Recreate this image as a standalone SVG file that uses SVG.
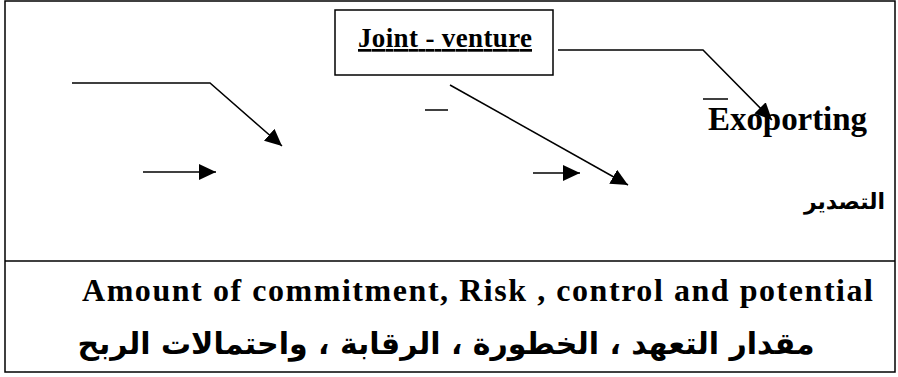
<svg xmlns="http://www.w3.org/2000/svg" width="898" height="377" viewBox="0 0 898 377">
<style>
.ln{stroke:#000;stroke-width:1.5;fill:none}
.en{font-family:"Liberation Serif","Times New Roman",serif;font-weight:bold;fill:#000}
.ar{font-family:"DejaVu Sans","Noto Sans",sans-serif;font-weight:bold;fill:#000}
</style>
<defs>
<marker id="ah" markerUnits="userSpaceOnUse" markerWidth="18" markerHeight="16" refX="17" refY="8" orient="auto">
<path d="M0,0 L17,8 L0,16 Z" fill="#000"/>
</marker>
</defs>
<rect x="5" y="1" width="890" height="371" fill="#fff" stroke="#000" stroke-width="1.5"/>
<line x1="5" y1="261" x2="895" y2="261" class="ln"/>
<g id="joint-venture">
<rect x="335" y="10" width="218" height="65" fill="#fff" stroke="#000" stroke-width="1.5"/>
<text x="358" y="47" class="en" font-size="27" text-decoration="underline" textLength="174" lengthAdjust="spacing">Joint  - venture</text>
</g>
<g id="exporting">
<line x1="703" y1="99" x2="728" y2="99" class="ln"/>
<text x="708" y="130" class="en" font-size="33" textLength="159" lengthAdjust="spacing">Exoporting</text>
<text x="885" y="209" class="ar" font-size="22" text-anchor="end">التصدير</text>
</g>
<g id="connectors">
<polyline points="72,83 210,83 282,146" class="ln" marker-end="url(#ah)"/>
<line x1="143" y1="172" x2="216" y2="172" class="ln" marker-end="url(#ah)"/>
<line x1="425" y1="110" x2="448" y2="110" class="ln"/>
<line x1="450" y1="85" x2="628" y2="185" class="ln" marker-end="url(#ah)"/>
<line x1="533" y1="173" x2="580" y2="173" class="ln" marker-end="url(#ah)"/>
<polyline points="558,50 703,50 772,120" class="ln" marker-end="url(#ah)"/>
</g>
<g id="caption">
<text x="82" y="301" class="en" font-size="32" textLength="791" lengthAdjust="spacing">Amount of commitment, Risk , control  and potential</text>
<text x="446" y="354" class="ar" font-size="30" text-anchor="middle">مقدار التعهد ، الخطورة ، الرقابة ، واحتمالات الربح</text>
</g>
</svg>
